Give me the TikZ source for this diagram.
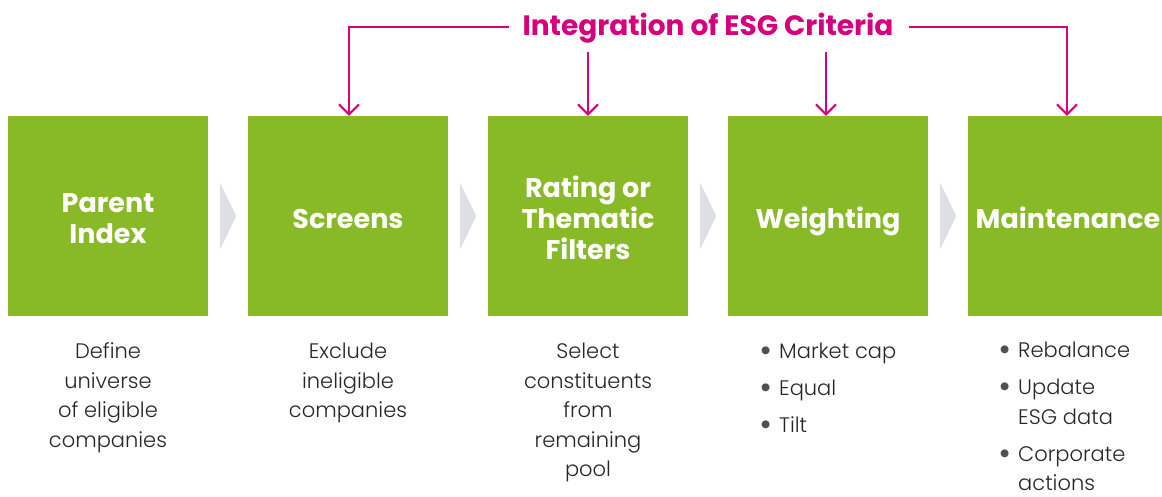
\documentclass[tikz,border=0pt]{standalone}
\usepackage{fontspec}
\setmainfont{Poppins}
\IfFontExistsTF{Poppins Light}
  {\newfontfamily\descfont{Poppins Light}}
  {\newfontfamily\descfont{Poppins}}
\newfontfamily\dotfont{Poppins}
\usetikzlibrary{arrows.meta,calc}
\definecolor{esggreen}{HTML}{88B926}
\definecolor{esgpink}{HTML}{D6007E}
\definecolor{chevgray}{HTML}{DCE0E4}
\definecolor{desctext}{HTML}{262626}
\definecolor{dotgray}{HTML}{4A5258}
\newcommand{\bul}{\makebox[13pt]{\textcolor{dotgray}{\raisebox{-3.5pt}{\dotfont\fontsize{32}{30}\selectfont •}}}\hspace{6.5pt}}

\begin{document}
\begin{tikzpicture}[x=1pt,y=-1pt,
  stage/.style={fill=esggreen, minimum width=200pt, minimum height=200pt,
    inner sep=0pt},
  stagetext/.style={text=white, inner sep=0pt,
    font=\fontsize{27}{31}\selectfont\bfseries},
  desc/.style={text=desctext, anchor=north, inner sep=0pt,
    font=\descfont\fontsize{21}{29.5}\selectfont},
  bullets/.style={text=desctext, anchor=north west, inner sep=0pt,
    font=\descfont\fontsize{21}{30}\selectfont},
  feed/.style={draw=esgpink, line width=2pt,
    -{Straight Barb[length=10pt,width=20pt,line width=2pt]}},
  chevron/.style={fill=chevgray},
]
\clip (0,0) rectangle (1162,496);

% process stages
\node[stage] (s1) at (108,216) {};
\node[stage] (s2) at (348,216) {};
\node[stage] (s3) at (588,216) {};
\node[stage] (s4) at (828,216) {};
\node[stage] (s5) at (1068,216) {};

% stage titles
\node[stagetext] (t1) at ([yshift=-5.8pt]s1.center) {\begin{tabular}{@{}c@{}}Parent\\Index\end{tabular}};
\node[stagetext] (t2) at ([yshift=-5.8pt]s2.center) {\begin{tabular}{@{}c@{}}Screens\end{tabular}};
\node[stagetext] (t3) at ([yshift=-5.8pt]s3.center) {\begin{tabular}{@{}c@{}}Rating or\\Thematic\\Filters\end{tabular}};
\node[stagetext] (t4) at ([yshift=-5.8pt]s4.center) {\begin{tabular}{@{}c@{}}Weighting\end{tabular}};
\node[stagetext] (t5) at ([yshift=-5.8pt]s5.center) {\begin{tabular}{@{}c@{}}Maintenance\end{tabular}};

% grey chevrons between the stages
\foreach \a in {s1,s2,s3,s4}{
  \fill[chevron] ($(\a.east)+(12,-33)$) -- ($(\a.east)+(28,0)$) -- ($(\a.east)+(12,33)$) -- cycle;
}

% ESG criteria feeding into the stages
\node[text=esgpink, font=\fontsize{28}{32}\selectfont\bfseries, inner sep=0pt, anchor=base] (esg) at (708,35) {Integration of ESG Criteria};
\coordinate (esgL) at (509,27);
\coordinate (esgR) at (909,27);
\coordinate (f3) at (588,52);
\coordinate (f4) at (826,52);
\draw[feed] (esgL) -| ([xshift=1pt]s2.north);
\draw[feed] (esgR) -| ([xshift=-1pt]s5.north);
\draw[feed] (f3) -- (s3.north);
\draw[feed] (f4) -- ([xshift=-2pt]s4.north);

% descriptions under the stages
\node[desc] (d1) at (108,338) {\begin{tabular}{@{}c@{}}Define\\universe\\of eligible\\companies\end{tabular}};
\node[desc] (d2) at (348,338) {\begin{tabular}{@{}c@{}}Exclude\\ineligible\\companies\end{tabular}};
\node[desc] (d3) at (588,338) {\begin{tabular}{@{}c@{}}Select\\constituents\\from\\remaining\\pool\end{tabular}};
\node[bullets] (d4) at (759.5,337) {%
  \begin{tabular}{@{}l@{}}
  \bul Market cap\\[7pt]
  \bul Equal\\[7pt]
  \bul Tilt
  \end{tabular}};
\node[bullets] (d5) at (998.5,336) {%
  \begin{tabular}{@{}l@{}}
  \bul Rebalance\\[7pt]
  \bul Update\\
  \hspace{19.5pt}ESG data\\[7pt]
  \bul Corporate\\[-1pt]
  \hspace{19.5pt}actions
  \end{tabular}};
\end{tikzpicture}
\end{document}
